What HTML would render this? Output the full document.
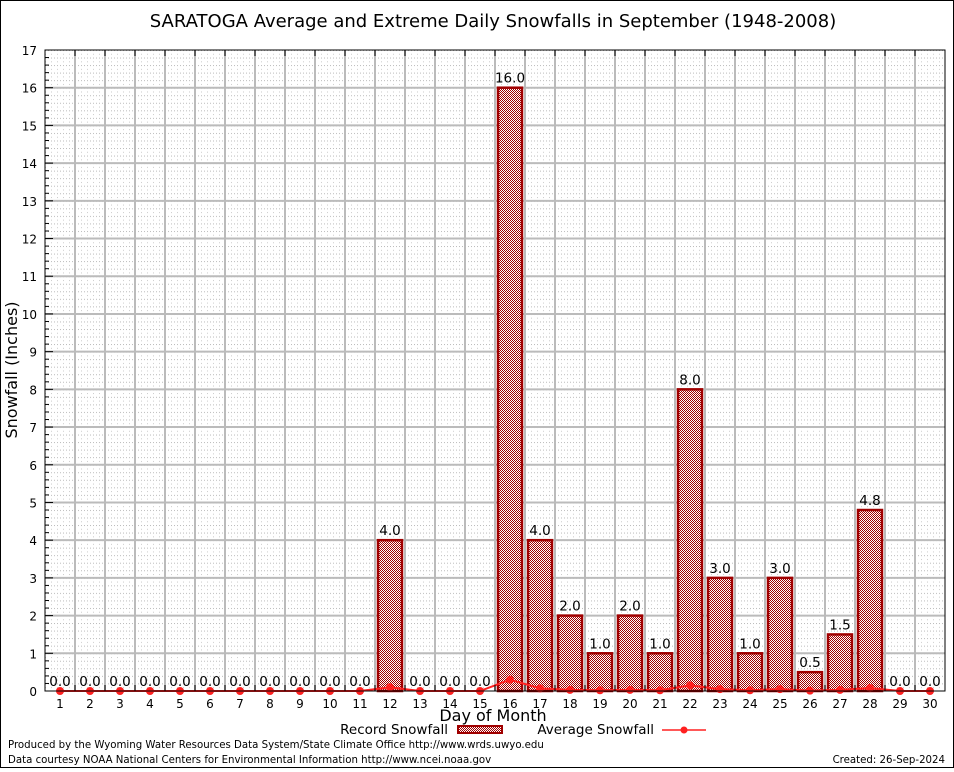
<!DOCTYPE html>
<html><head><meta charset="utf-8"><style>
body{margin:0;background:#fff;font-family:"DejaVu Sans","Liberation Sans",sans-serif}
svg text{font-family:"DejaVu Sans","Liberation Sans",sans-serif}
</style></head><body>
<svg id="c" width="954" height="768" xmlns="http://www.w3.org/2000/svg">
<defs>
<pattern id="chk" width="2" height="2" patternUnits="userSpaceOnUse"><rect width="2" height="2" fill="#fff"/><rect width="1" height="1" fill="#a00000"/><rect x="1" y="1" width="1" height="1" fill="#a00000"/></pattern>
<pattern id="minor" width="6" height="7.54" patternUnits="userSpaceOnUse" x="45" y="50"><rect x="0" y="0" width="1" height="1" fill="#bbb"/><rect x="3" y="0" width="1" height="1" fill="#bbb"/><rect x="0" y="3.77" width="1" height="1" fill="#ccc"/></pattern>
</defs>
<rect x="0.5" y="0.5" width="953" height="767" fill="#fff" stroke="#000"/>
<text x="493" y="27" font-size="18" text-anchor="middle">SARATOGA Average and Extreme Daily Snowfalls in September (1948-2008)</text>
<rect x="45" y="50" width="900" height="641" fill="url(#minor)"/>
<g id="grid"></g>
<g id="bars"></g>
<g id="avg"></g>
<rect x="45" y="50" width="900" height="641" fill="none" stroke="#000"/>
<g id="axes"></g>
<text x="17" y="370" font-size="16" text-anchor="middle" transform="rotate(-90 17 370)">Snowfall (Inches)</text>
<text x="493" y="721" font-size="16" text-anchor="middle">Day of Month</text>
<g>
<text x="448" y="734" font-size="13.5" text-anchor="end">Record Snowfall</text>
<rect x="458" y="726" width="44" height="7" fill="url(#chk)" stroke="#a00000" stroke-width="2"/>
</g>
<g>
<text x="654" y="734" font-size="13.5" text-anchor="end">Average Snowfall</text>
<line x1="662" y1="730" x2="706" y2="730" stroke="#ff2020" stroke-width="1.5"/>
<circle cx="684" cy="730" r="3.5" fill="#ff2020"/>
</g>
<text x="8" y="748" font-size="10.2">Produced by the Wyoming Water Resources Data System/State Climate Office http://www.wrds.uwyo.edu</text>
<text x="8" y="763" font-size="10.2">Data courtesy NOAA National Centers for Environmental Information http://www.ncei.noaa.gov</text>
<text x="945" y="763" font-size="10.2" text-anchor="end">Created: 26-Sep-2024</text>
</svg>
<script>
const days=[1,2,3,4,5,6,7,8,9,10,11,12,13,14,15,16,17,18,19,20,21,22,23,24,25,26,27,28,29,30];
const recordValues=[0,0,0,0,0,0,0,0,0,0,0,4,0,0,0,16,4,2,1,2,1,8,3,1,3,0.5,1.5,4.8,0,0];
const averageValues=[0,0,0,0,0,0,0,0,0,0,0,0.1,0,0,0,0.3,0.07,0.03,0.02,0.03,0.02,0.15,0.05,0.02,0.05,0.01,0.03,0.08,0,0];
const yTicks=[0,1,2,3,4,5,6,7,8,9,10,11,12,13,14,15,16,17];
const NS='http://www.w3.org/2000/svg';
const L=45,R=945,T=50,B=691,YMAX=17;
const x=d=>L+(d-0.5)*30;
const y=v=>B-v/YMAX*(B-T);
function mk(tag,attrs,parent,txt){const e=document.createElementNS(NS,tag);for(const k in attrs)e.setAttribute(k,attrs[k]);if(txt!=null)e.textContent=txt;document.getElementById(parent).appendChild(e);return e;}
yTicks.forEach(t=>{
 if(t>0&&t<YMAX){const g=mk('line',{x1:L,x2:R,y1:y(t),y2:y(t),stroke:'#bbb','stroke-width':2},'grid');
 
 }
 const tl=mk('text',{x:L-8,y:y(t)+5,'font-size':12,'text-anchor':'end','font-family':'Liberation Serif, serif'},'axes',String(t));
 
 
 for(let m=0;m<5;m++){const v=t+m*0.2;if(v>YMAX)break;const w=m==0?8:4;
  mk('line',{x1:L,x2:L+w,y1:y(v),y2:y(v),stroke:'#000'},'axes');}
});
for(let i=1;i<30;i++){const gx=L+i*30;const g=mk('line',{x1:gx,x2:gx,y1:T,y2:B,stroke:'#bbb','stroke-width':2},'grid');
 
 
 mk('line',{x1:gx,x2:gx,y1:T,y2:T+6,stroke:'#000'},'axes');mk('line',{x1:gx,x2:gx,y1:B,y2:B-6,stroke:'#000'},'axes');}
days.forEach((d,i)=>{
 const v=recordValues[i];
 if(v>0){const r=mk('rect',{x:x(d)-12,y:y(v),width:24,height:B-y(v),fill:'url(#chk)',stroke:'#a00000','stroke-width':2.5},'bars');
 
 }
 const lb=mk('text',{x:x(d),y:y(v)-5,'font-size':13.5,'text-anchor':'middle'},'bars',v.toFixed(1));
 
 
 const xl=mk('text',{x:x(d),y:B+17,'font-size':12,'text-anchor':'middle','font-family':'Liberation Serif, serif'},'axes',String(d));
 
 
});
const pts=days.map((d,i)=>x(d)+','+y(averageValues[i])).join(' ');
const pl=mk('polyline',{points:pts,fill:'none',stroke:'#ff2020','stroke-width':2},'avg');


days.forEach((d,i)=>{const c=mk('circle',{cx:x(d),cy:y(averageValues[i]),r:4,fill:'#ff2020'},'avg');
 
 });
</script>
</body></html>
